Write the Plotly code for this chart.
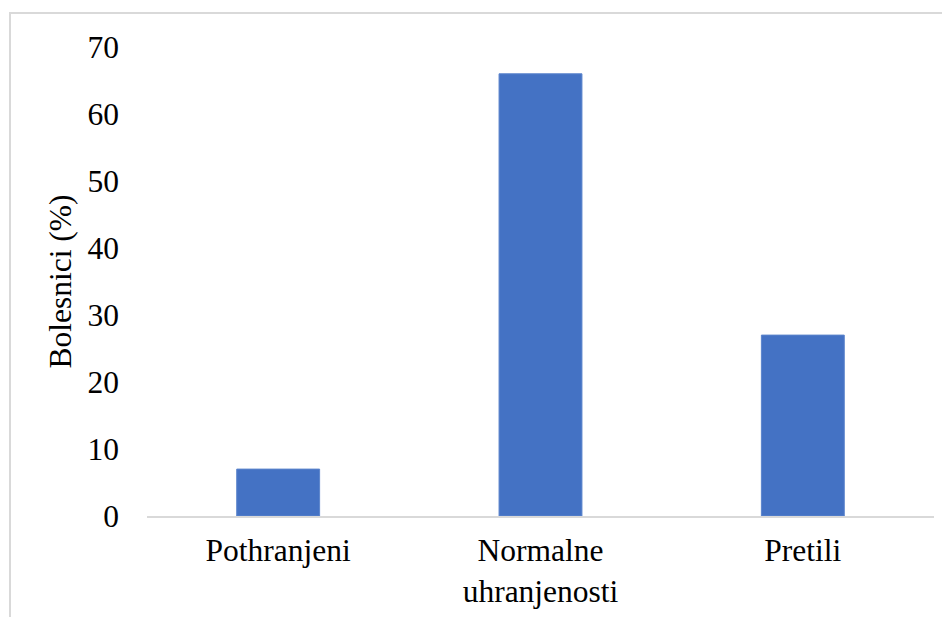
import plotly.graph_objects as go

categories = ["Pothranjeni", "Normalne<br>uhranjenosti", "Pretili"]
values = [7, 66, 27]
y_ticks = [0, 10, 20, 30, 40, 50, 60, 70]

# page has an 8px body margin; figure is placed at (8, 8)
OFF = 8
W, H = 950 - OFF, 617 - OFF
L, R, T, B = 147 - OFF, 16, 47 - OFF, 101
pw = W - L - R
ph = H - T - B

def px_x(p):
    return (p - OFF - L) / pw

def px_y(p):
    return (H - B - (p - OFF)) / ph

fig = go.Figure(go.Bar(
    x=categories, y=values,
    marker=dict(color="#4472C4", line=dict(color="#5b84cc", width=1)),
    width=0.316,
))

font = "Liberation Serif"
fs = 31.5
fig.update_layout(
    width=W, height=H,
    margin=dict(l=L, r=R, t=T, b=B),
    paper_bgcolor="white", plot_bgcolor="white",
    font=dict(family=font, color="black", size=fs),
    showlegend=False,
    xaxis=dict(showline=True, linecolor="#d9d9d9", linewidth=2, showgrid=False,
               automargin=False,
               ticks="", tickfont=dict(family=font, size=fs), ticklabelstandoff=5),
    yaxis=dict(range=[0, 70], tickvals=y_ticks, showgrid=False, zeroline=False,
               showline=False, ticks="", tickfont=dict(family=font, size=fs),
               automargin=False,
               ticklabelstandoff=27,
               title=dict(text="Bolesnici (%)", font=dict(family=font, size=fs), standoff=6)),
    shapes=[dict(type="rect", xref="paper", yref="paper",
                 x0=px_x(10), x1=px_x(990), y0=px_y(660), y1=px_y(13),
                 line=dict(color="#d9d9d9", width=2), fillcolor="rgba(0,0,0,0)",
                 layer="below")],
)

fig.write_html("out.html")
